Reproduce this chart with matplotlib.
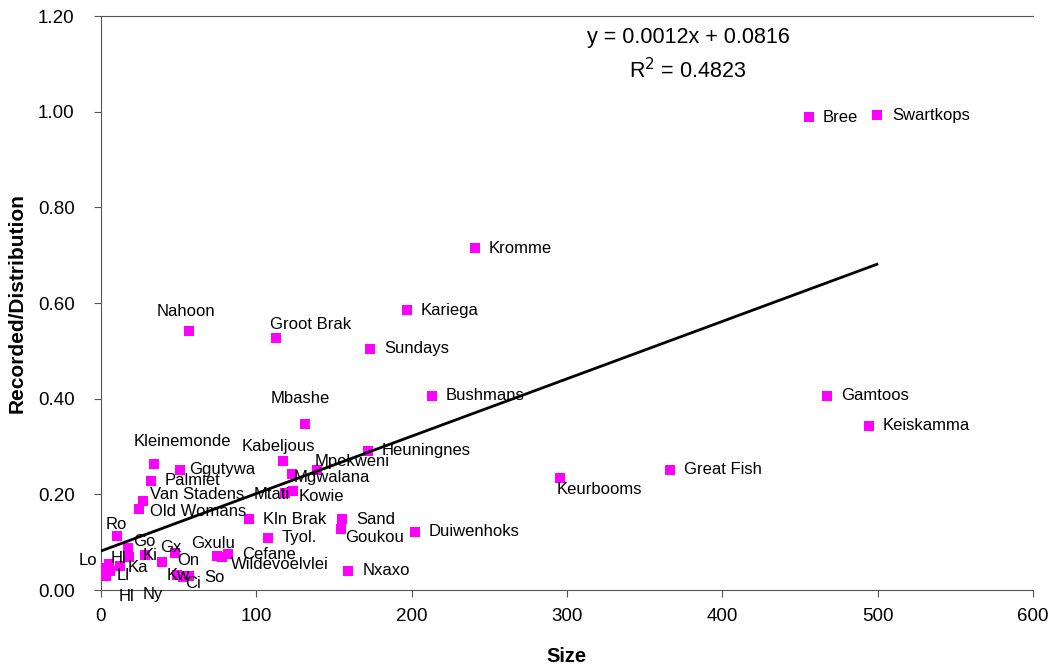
import numpy as np
import matplotlib
matplotlib.use("Agg")
import matplotlib.pyplot as plt

plt.rcParams["font.family"] = ["Liberation Sans", "DejaVu Sans"]

# estuary name, size, recorded/distribution ratio
NAMES = [
    "Swartkops", "Bree", "Kromme", "Kariega", "Nahoon", "Groot Brak", "Sundays",
    "Bushmans", "Gamtoos", "Keiskamma", "Mbashe", "Heuningnes", "Kabeljous",
    "Mpekweni", "Mgwalana", "Kleinemonde", "Ggutywa", "Great Fish", "Palmiet",
    "Keurbooms", "Van Stadens", "Mtati", "Kowie", "Old Womans", "Kln Brak",
    "Sand", "Goukou", "Duiwenhoks", "Tyol.", "Ro", "Gxulu", "Cefane",
    "Wildevoelvlei", "Nxaxo", "Go", "Gx", "Ki", "On", "Ka", "Hl", "Lo", "Ll",
    "Hl ", "Ny", "Kw", "Ci", "So",
]
SIZE = [
    499.6, 455.8, 240.8, 197.0, 56.7, 112.7, 173.2,
    213.1, 467.4, 494.4, 131.3, 171.9, 117.2,
    138.9, 122.8, 34.3, 50.9, 366.3, 32.2,
    295.5, 27.2, 118.5, 123.8, 24.7, 95.3,
    155.3, 154.5, 202.1, 107.3, 10.1, 75.0, 82.0,
    78.0, 159.2, 17.6, 47.6, 28.3, 39.0, 18.0, 5.0, 2.0, 3.0,
    6.0, 12.0, 49.0, 53.0, 57.0,
]
RATIO = [
    0.993, 0.989, 0.715, 0.585, 0.541, 0.527, 0.504,
    0.406, 0.406, 0.343, 0.347, 0.291, 0.270,
    0.251, 0.242, 0.263, 0.251, 0.251, 0.228,
    0.234, 0.186, 0.202, 0.207, 0.169, 0.148,
    0.148, 0.127, 0.122, 0.109, 0.113, 0.072, 0.075,
    0.070, 0.040, 0.087, 0.077, 0.073, 0.059, 0.068, 0.055, 0.045, 0.030,
    0.040, 0.050, 0.032, 0.027, 0.030,
]

TREND_SLOPE = 0.0012
TREND_INTERCEPT = 0.0816
R_SQUARED = 0.4823

# label placement: name -> (dx px, dy px, ha); default is just right of marker
LABEL_POS = {
    "Swartkops": (15, 0, "left"), "Nahoon": (-3, 20, "center"),
    "Groot Brak": (35, 13, "center"), "Mbashe": (-5, 26, "center"),
    "Kabeljous": (-5, 14, "center"), "Mpekweni": (-2, 8, "left"),
    "Mgwalana": (2, -3, "left"), "Kleinemonde": (28, 23, "center"),
    "Ggutywa": (9, 0, "left"), "Keurbooms": (-3, -11, "left"),
    "Van Stadens": (7, 7, "left"), "Mtati": (5, -1, "right"),
    "Kowie": (5, -5, "left"), "Old Womans": (11, -2, "left"),
    "Goukou": (4, -8, "left"), "Ro": (0, 11, "center"),
    "Gxulu": (-4, 12, "center"), "Wildevoelvlei": (9, -8, "left"),
    "Go": (5, 7, "left"), "Gx": (-15, 6, "left"), "Ki": (-2, 0, "left"),
    "On": (16, 1, "left"), "Ka": (-1, -10, "left"), "Hl": (2, 5, "left"),
    "Lo": (-7, 8, "right"), "Ll": (11, 0, "left"), "Hl ": (8, -26, "left"),
    "Ny": (23, -28, "left"), "Kw": (-10, -1, "left"), "Ci": (2, -6, "left"),
    "So": (15, -2, "left"),
}

fig = plt.figure(figsize=(10.55, 6.72), dpi=100)
ax = fig.add_axes([0.0957, 0.122, 0.8833, 0.854])

ax.scatter(SIZE, RATIO, marker="s", s=44, color="#FF00FF", zorder=3, linewidths=0)

xs = np.array([0, max(SIZE)])
ax.plot(xs, TREND_SLOPE * xs + TREND_INTERCEPT, color="black", lw=2, zorder=4)

for name, x, y in zip(NAMES, SIZE, RATIO):
    dx, dy, ha = LABEL_POS.get(name, (14, 0, "left"))
    ax.annotate(name.strip(), (x, y), xytext=(dx, dy), textcoords="offset pixels",
                ha=ha, va="center", fontsize=12, color="black", zorder=5)

ax.text(0.63, 0.962, f"y = {TREND_SLOPE}x + {TREND_INTERCEPT}", transform=ax.transAxes,
        ha="center", va="center", fontsize=15.5)
ax.text(0.63, 0.905, f"R$^2$ = {R_SQUARED}", transform=ax.transAxes,
        ha="center", va="center", fontsize=15.5)

ax.set_xlim(0, 600)
ax.set_ylim(0, 1.2)
ax.set_xticks(np.arange(0, 601, 100))
ax.set_yticks(np.arange(0, 1.21, 0.2))
ax.yaxis.set_major_formatter(matplotlib.ticker.FormatStrFormatter("%.2f"))
ax.tick_params(labelsize=13.5, length=5, color="#555555")
ax.tick_params(axis="y", pad=14)
ax.tick_params(axis="x", pad=8)

ax.spines["right"].set_visible(False)
for side in ["left", "bottom", "top"]:
    ax.spines[side].set_color("#555555")

ax.set_xlabel("Size", fontsize=14.5, fontweight="bold", labelpad=16)
ax.set_ylabel("Recorded/Distribution", fontsize=15, fontweight="bold", labelpad=8)

fig.savefig("out.png", dpi=100)
